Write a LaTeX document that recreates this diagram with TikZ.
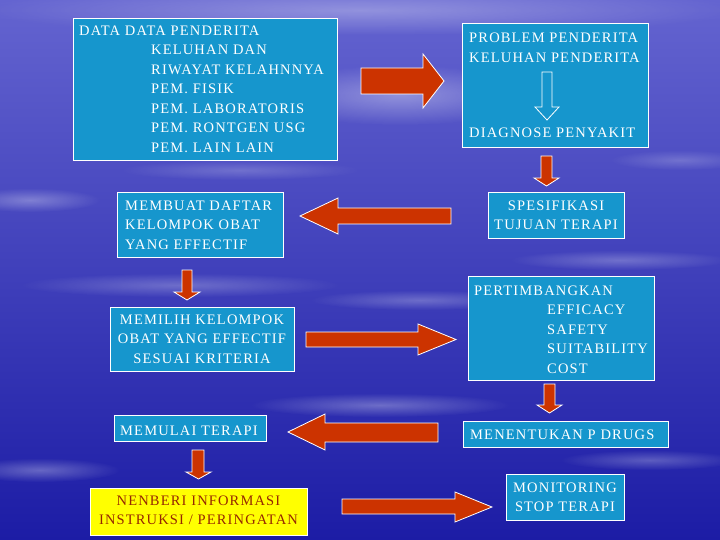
\documentclass[tikz,border=0pt]{standalone}
\usepackage{fontspec}
\setmainfont[LetterSpace=8]{Liberation Serif}
\usetikzlibrary{fadings}
\tikzfading[name=softglow, inner color=transparent!0, outer color=transparent!100]
\definecolor{bgtop}{RGB}{100,100,208}
\definecolor{bgmid}{RGB}{44,48,190}
\definecolor{bgbot}{RGB}{28,28,165}
\definecolor{boxblue}{RGB}{22,150,205}
\definecolor{arrred}{RGB}{204,51,0}
\definecolor{infoyellow}{RGB}{255,255,0}
\definecolor{infotext}{RGB}{150,40,0}
\begin{document}
\begin{tikzpicture}[x=1pt,y=-1pt,
  box/.style={draw=white, line width=0.8pt, fill=boxblue, inner sep=0pt, anchor=north west},
  ybox/.style={box, fill=infoyellow},
  txt/.style={inner sep=0pt, text=white, font=\fontsize{14.5}{19.5}\selectfont},
  ytxt/.style={txt, text=infotext},
  blockarrow/.style={fill=arrred, draw=white, line width=0.8pt, line join=miter},
  cloud/.style={fill=white, path fading=softglow}]
\useasboundingbox (0,0) rectangle (720,540);
% background
\shade[top color=bgtop, middle color=bgmid, bottom color=bgbot] (0,0) rectangle (720,540);
\fill[cloud, opacity=0.35] (400,95) ellipse (140pt and 30pt);
\fill[cloud, opacity=0.30] (360,10) ellipse (380pt and 25pt);
\fill[cloud, opacity=0.30] (30,200) ellipse (70pt and 12pt);
\fill[cloud, opacity=0.25] (180,285) ellipse (160pt and 12pt);
\fill[cloud, opacity=0.25] (420,300) ellipse (110pt and 10pt);
\fill[cloud, opacity=0.25] (620,260) ellipse (110pt and 10pt);
\fill[cloud, opacity=0.30] (380,405) ellipse (130pt and 12pt);
\fill[cloud, opacity=0.25] (650,460) ellipse (90pt and 10pt);
\fill[cloud, opacity=0.30] (40,470) ellipse (80pt and 12pt);
\fill[cloud, opacity=0.20] (240,170) ellipse (120pt and 10pt);
\fill[cloud, opacity=0.20] (680,160) ellipse (70pt and 10pt);

% boxes
\node[box, minimum width=264pt, minimum height=142pt] (b1) at (73,18) {};
\node[txt, anchor=base west] (t1) at (79,35.5) {\begin{tabular}[t]{@{}l@{}}DATA DATA PENDERITA\\
\hspace*{72pt}KELUHAN DAN\\
\hspace*{72pt}RIWAYAT KELAHNNYA\\
\hspace*{72pt}PEM. FISIK\\
\hspace*{72pt}PEM. LABORATORIS\\
\hspace*{72pt}PEM. RONTGEN USG\\
\hspace*{72pt}PEM. LAIN LAIN\end{tabular}};

\node[box, minimum width=186pt, minimum height=124pt] (b2) at (462,23) {};
\node[txt, anchor=base west] (t2a) at (469,43) {\begin{tabular}[t]{@{}l@{}}PROBLEM PENDERITA\\KELUHAN PENDERITA\end{tabular}};
\node[txt, anchor=base west] (t2b) at (469,138) {DIAGNOSE PENYAKIT};
\draw[white, line width=0.8pt] (542,72) -- (552,72) -- (552,107) -- (559,107) -- (547,120) -- (535,107) -- (542,107) -- cycle;

\node[box, minimum width=166pt, minimum height=65pt] (b3) at (117,192) {};
\node[txt, anchor=base west] (t3) at (125,210.5) {\begin{tabular}[t]{@{}l@{}}MEMBUAT DAFTAR\\KELOMPOK OBAT\\YANG EFFECTIF\end{tabular}};

\node[box, minimum width=136pt, minimum height=46pt] (b4) at (488,192) {};
\node[txt, anchor=base] (t4) at (556,210.5) {\begin{tabular}[t]{@{}c@{}}SPESIFIKASI\\TUJUAN TERAPI\end{tabular}};

\node[box, minimum width=184pt, minimum height=64pt] (b5) at (110,307) {};
\node[txt, anchor=base] (t5) at (202,324) {\begin{tabular}[t]{@{}c@{}}MEMILIH KELOMPOK\\OBAT YANG EFFECTIF\\SESUAI KRITERIA\end{tabular}};

\node[box, minimum width=186pt, minimum height=104pt] (b6) at (468,276) {};
\node[txt, anchor=base west] (t6) at (474,295) {\begin{tabular}[t]{@{}l@{}}PERTIMBANGKAN\\
\hspace*{73pt}EFFICACY\\
\hspace*{73pt}SAFETY\\
\hspace*{73pt}SUITABILITY\\
\hspace*{73pt}COST\end{tabular}};

\node[box, minimum width=152pt, minimum height=26pt] (b7) at (114,415) {};
\node[txt, anchor=base west] (t7) at (120,435) {MEMULAI TERAPI};

\node[box, minimum width=205pt, minimum height=26pt] (b8) at (463,421) {};
\node[txt, anchor=base west] (t8) at (470,439.5) {MENENTUKAN P DRUGS};

\node[ybox, minimum width=217pt, minimum height=47pt] (b9) at (90,488) {};
\node[ytxt, anchor=base] (t9) at (198.5,505) {\begin{tabular}[t]{@{}c@{}}NENBERI INFORMASI\\INSTRUKSI / PERINGATAN\end{tabular}};

\node[box, minimum width=118pt, minimum height=46pt] (b10) at (506,474) {};
\node[txt, anchor=base] (t10) at (565,492) {\begin{tabular}[t]{@{}c@{}}MONITORING\\STOP TERAPI\end{tabular}};

% block arrows
% b1 -> b2
\draw[blockarrow] (361,68) -- (423,68) -- (423,54) -- (444,81) -- (423,108) -- (423,94) -- (361,94) -- cycle;
% b2 -> b4
\draw[blockarrow] (541,156) -- (552,156) -- (552,178) -- (559,178) -- (546.5,186) -- (534,178) -- (541,178) -- cycle;
% b4 -> b3
\draw[blockarrow] (451,208) -- (338,208) -- (338,198) -- (300,216) -- (338,234) -- (338,224) -- (451,224) -- cycle;
% b3 -> b5
\draw[blockarrow] (182,270) -- (192,270) -- (192,292) -- (200,292) -- (187,300) -- (174,292) -- (182,292) -- cycle;
% b5 -> b6
\draw[blockarrow] (306,332) -- (418,332) -- (418,324) -- (456,339.5) -- (418,355) -- (418,347) -- (306,347) -- cycle;
% b6 -> b8
\draw[blockarrow] (544,384) -- (555,384) -- (555,405) -- (562,405) -- (549.5,413) -- (537,405) -- (544,405) -- cycle;
% b8 -> b7
\draw[blockarrow] (438,423) -- (325,423) -- (325,414) -- (288,432) -- (325,450) -- (325,442) -- (438,442) -- cycle;
% b7 -> b9
\draw[blockarrow] (192,450) -- (204,450) -- (204,472) -- (211,472) -- (198.5,479) -- (186,472) -- (192,472) -- cycle;
% b9 -> b10
\draw[blockarrow] (342,499) -- (455,499) -- (455,492) -- (492,507) -- (455,522) -- (455,514) -- (342,514) -- cycle;
\end{tikzpicture}
\end{document}
